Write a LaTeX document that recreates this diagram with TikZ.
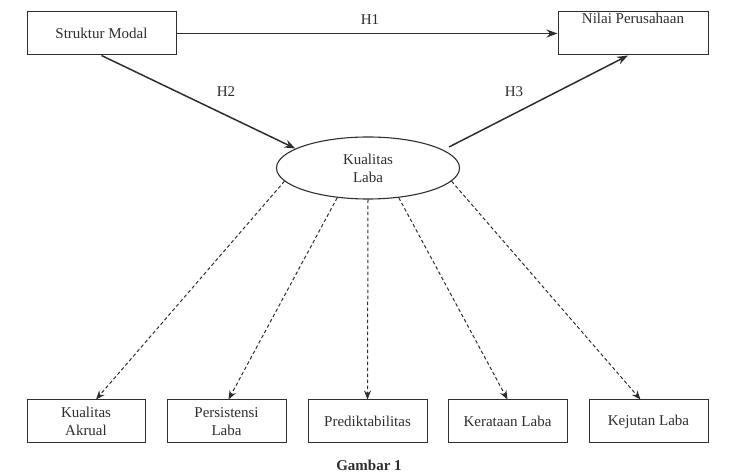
\documentclass[tikz,border=0pt]{standalone}
\usepackage{fontspec}
\setmainfont{Liberation Serif}
\usetikzlibrary{shapes.geometric,arrows.meta}
\definecolor{ink}{HTML}{2E2E2E}
\begin{document}
\begin{tikzpicture}[x=1pt,y=1pt,
  every node/.style={font=\fontsize{15}{18}\selectfont, text=ink},
  box/.style={draw=ink, line width=1pt, inner sep=0pt, minimum height=43pt, align=center},
  latent/.style={draw=ink, line width=1.1pt, ellipse, inner sep=0pt, minimum width=183pt, minimum height=62pt, align=center},
  path/.style={draw=ink, line width=1.5pt, -{Stealth[length=11pt,width=8pt]}},
  indicator/.style={draw=ink, line width=1pt, dash pattern=on 3.5pt off 2.5pt, -{Stealth[length=9pt,width=7pt]}}
]
\useasboundingbox (0,0) rectangle (737,474);

% constructs
\node[box, minimum width=149pt] (sm) at (101.5,440.5) {Struktur Modal};
\node[box, minimum width=150pt,
      label={[anchor=north, inner sep=1pt, font=\fontsize{15}{18}\selectfont, text=ink]north:Nilai Perusahaan}] (np) at (633,440.5) {};
\node[latent] (kl) at (368,306) {Kualitas\\Laba};

% indicators
\node[box, minimum width=118pt] (ka) at (86,52.5) {Kualitas\\Akrual};
\node[box, minimum width=119pt] (pl) at (226.5,52.5) {Persistensi\\Laba};
\node[box, minimum width=119pt] (pr) at (367.5,52.5) {Prediktabilitas};
\node[box, minimum width=119pt] (kr) at (507.5,52.5) {Kerataan Laba};
\node[box, minimum width=119pt] (kj) at (648.5,52.5) {Kejutan Laba};

% hypotheses
\coordinate (h3start) at (449,327);
\draw[path] (sm.east) -- (np.west);
\draw[path] (sm.south) -- (kl.165);
\draw[path] (h3start) -- ([xshift=-5pt]np.south);
\node (h1) at (370,454) {H1};
\node (h2) at (226,382) {H2};
\node (h3) at (514,382) {H3};

% reflective indicators
\draw[indicator] (kl.189) -- ([xshift=10pt]ka.north);
\draw[indicator] (kl.224) -- ([xshift=2pt]pl.north);
\draw[indicator] (kl.south) -- (pr.north);
\draw[indicator] (kl.316) -- (kr.north);
\draw[indicator] (kl.351) -- ([xshift=-8pt]kj.north);

% caption
\node[font=\fontsize{15}{18}\selectfont\bfseries] (cap) at (369,9) {Gambar 1};
\end{tikzpicture}
\end{document}
